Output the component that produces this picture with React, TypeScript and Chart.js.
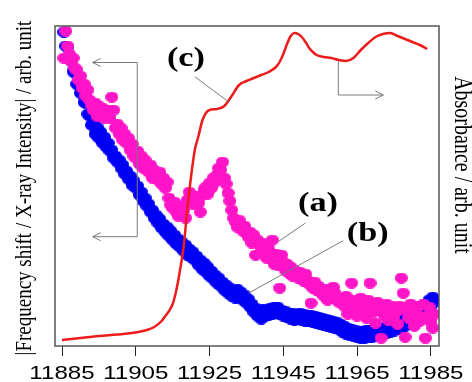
import { useEffect, useRef } from "react";
import { Chart, registerables } from "chart.js";

Chart.register(...registerables);

// ---- axis ticks ----
const xTicks = [11885, 11905, 11925, 11945, 11965, 11985];

// ---- photon energies (eV) of the scatter series ----
const energies = [
  11885.5, 11886, 11886.5, 11887, 11887.5, 11888, 11888.5, 11889, 11889.5, 11890,
  11890.5, 11891, 11891.5, 11892, 11892.5, 11893, 11893.5, 11894, 11894.5, 11895,
  11895.5, 11896, 11896.5, 11897, 11897.5, 11898, 11898.5, 11899, 11899.5, 11900,
  11900.5, 11901, 11901.5, 11902, 11902.5, 11903, 11903.5, 11904, 11904.5, 11905,
  11905.5, 11906, 11906.5, 11907, 11907.5, 11908, 11908.5, 11909, 11909.5, 11910,
  11910.5, 11911, 11911.5, 11912, 11912.5, 11913, 11913.5, 11914, 11914.5, 11915,
  11915.5, 11916, 11916.5, 11917, 11917.5, 11918, 11918.5, 11919, 11919.5, 11920,
  11920.5, 11921, 11921.5, 11922, 11922.5, 11923, 11923.5, 11924, 11924.5, 11925,
  11925.5, 11926, 11926.5, 11927, 11927.5, 11928, 11928.5, 11929, 11929.5, 11930,
  11930.5, 11931, 11931.5, 11932, 11932.5, 11933, 11933.5, 11934, 11934.5, 11935,
  11935.5, 11936, 11936.5, 11937, 11937.5, 11938, 11938.5, 11939, 11939.5, 11940,
  11940.5, 11941, 11941.5, 11942, 11942.5, 11943, 11943.5, 11944, 11944.5, 11945,
  11945.5, 11946, 11946.5, 11947, 11947.5, 11948, 11948.5, 11949, 11949.5, 11950,
  11950.5, 11951, 11951.5, 11952, 11952.5, 11953, 11953.5, 11954, 11954.5, 11955,
  11955.5, 11956, 11956.5, 11957, 11957.5, 11958, 11958.5, 11959, 11959.5, 11960,
  11960.5, 11961, 11961.5, 11962, 11962.5, 11963, 11963.5, 11964, 11964.5, 11965,
  11965.5, 11966, 11966.5, 11967, 11967.5, 11968, 11968.5, 11969, 11969.5, 11970,
  11970.5, 11971, 11971.5, 11972, 11972.5, 11973, 11973.5, 11974, 11974.5, 11975,
  11975.5, 11976, 11976.5, 11977, 11977.5, 11978, 11978.5, 11979, 11979.5, 11980,
  11980.5, 11981, 11981.5, 11982, 11982.5, 11983, 11983.5, 11984, 11984.5, 11985,
  11985.5, 11986,
];

// ---- (a) magenta: |frequency shift| (arb. unit) ----
const seriesA = [
  288, 315, 300, 292, 285, 288, 278, 276, 266, 270,
  258, 262, 250, 256, 246, 241, 236, 243, 230, 240,
  234, 238, 228, 233, 236, 228, 249, 236, 218, 222,
  212, 218, 206, 212, 203, 208, 196, 202, 190, 188,
  195, 182, 190, 178, 186, 180, 174, 181, 168, 176,
  172, 166, 174, 162, 168, 158, 164, 148, 141, 138,
  144, 134, 130, 132, 140, 136, 128, 146, 154, 150,
  142, 146, 150, 143, 134, 151, 156, 159, 152, 163,
  158, 168, 164, 171, 178, 176, 184, 168, 162, 153,
  145, 136, 128, 124, 119, 126, 118, 115, 120, 113,
  109, 114, 103, 111, 91, 106, 102, 98, 103, 96,
  88, 97, 93, 106, 82, 92, 81, 58, 91, 84,
  76, 82, 73, 79, 70, 76, 71, 68, 74, 70,
  65, 72, 66, 62, 43, 58, 64, 56, 60, 54,
  54, 50, 57, 46, 52, 48, 59, 53, 47, 44,
  45, 46, 40, 50, 32, 44, 63, 38, 46, 30,
  42, 48, 35, 44, 28, 46, 63, 40, 34, 23,
  44, 36, 8, 38, 30, 42, 26, 36, 40, 30,
  34, 22, 40, 68, 53, 9, 35, 28, 42, 39,
  20, 33, 40, 25, 29, 42, 8, 30, 39, 24,
  18, 32,
];

// ---- (b) blue: X-ray intensity (arb. unit) ----
const seriesB = [
  314, 300, 299, 288, 285, 275, 273, 262, 261, 253,
  253, 244, 243, 232, 230, 221, 223, 212, 219, 208,
  214, 203, 209, 199, 203, 195, 196, 188, 190, 184,
  186, 178, 181, 172, 175, 167, 170, 161, 165, 158,
  160, 151, 154, 145, 148, 140, 142, 134, 136, 128,
  131, 123, 127, 118, 122, 114, 119, 110, 115, 106,
  111, 102, 107, 99, 104, 95, 101, 91, 97, 89,
  94, 86, 90, 81, 86, 77, 83, 74, 79, 70,
  75, 67, 71, 63, 68, 60, 64, 56, 61, 53,
  58, 50, 55, 48, 57, 49, 54, 46, 51, 43,
  47, 39, 42, 34, 38, 30, 33, 27, 37, 30,
  35, 31, 38, 32, 39, 33, 39, 32, 36, 30,
  35, 29, 33, 27, 33, 26, 32, 27, 33, 26,
  32, 25, 31, 25, 31, 24, 30, 23, 29, 22,
  28, 21, 27, 20, 26, 19, 25, 18, 24, 17,
  22, 14, 20, 12, 18, 11, 17, 10, 16, 9,
  15, 8, 15, 8, 16, 9, 16, 9, 17, 10,
  17, 11, 18, 12, 19, 13, 20, 14, 22, 15,
  23, 17, 25, 18, 27, 20, 29, 22, 31, 24,
  33, 26, 35, 28, 38, 31, 42, 35, 46, 40,
  49, 44,
];

// ---- (c) red: absorbance (arb. unit) ----
const absE = [
  11885, 11890, 11895, 11900, 11904, 11908, 11910, 11912, 11913, 11914,
  11915, 11916, 11917, 11918, 11919, 11920, 11921, 11922, 11923, 11924,
  11925, 11927, 11929, 11931, 11933, 11935, 11937, 11939, 11941, 11943,
  11944, 11945, 11946, 11947, 11948, 11949, 11950, 11951, 11952, 11953,
  11954, 11956, 11958, 11960, 11962, 11964, 11966, 11968, 11970, 11972,
  11974, 11976, 11978, 11980, 11982, 11984,
];
const absC = [
  6, 8, 10, 11.5, 13, 16, 19, 25, 30, 35,
  42, 56, 76, 100, 138, 170, 196, 210, 225, 233,
  236, 237, 240, 250, 261, 265, 268, 271, 274, 279,
  284, 292, 302, 310, 313, 312, 309, 304, 298, 294,
  291, 289, 288, 286, 285, 288, 296, 303, 309, 312,
  313, 310, 307, 304, 301, 297,
];

const SERIF = '"Liberation Serif", "Times New Roman", serif';
const SANS = '"Liberation Sans", Arial, sans-serif';
const STRETCH = 1.27;

function makeDot(color: string) {
  const c = document.createElement("canvas");
  c.width = 13;
  c.height = 11;
  const g = c.getContext("2d")!;
  g.fillStyle = color;
  g.beginPath();
  g.ellipse(6.5, 5.5, 6.5, 5.5, 0, 0, Math.PI * 2);
  g.fill();
  return c;
}

const decorPlugin = {
  id: "decor",
  afterDatasetsDraw(chart: any) {
    const { ctx, chartArea: a, scales } = chart;
    const xs = scales.x;
    const ys = scales.y;
    const X = (v: number) => xs.getPixelForValue(v);
    const Y = (v: number) => ys.getPixelForValue(v);
    ctx.save();

    // frame
    ctx.strokeStyle = "#555";
    ctx.lineWidth = 1.5;
    ctx.strokeRect(a.left, a.top, a.right - a.left, a.bottom - a.top);

    // guide lines
    ctx.strokeStyle = "#7a7a7a";
    ctx.lineWidth = 1;
    const line = (pts: number[][]) => {
      ctx.beginPath();
      pts.forEach((p, i) => (i ? ctx.lineTo(X(p[0]), Y(p[1])) : ctx.moveTo(X(p[0]), Y(p[1]))));
      ctx.stroke();
    };
    const head = (p: number[], dir: number) => {
      const px = X(p[0]);
      const py = Y(p[1]);
      ctx.beginPath();
      ctx.moveTo(px + dir * 8, py - 4);
      ctx.lineTo(px, py);
      ctx.lineTo(px + dir * 8, py + 4);
      ctx.stroke();
    };
    // left bracket (scatter -> left axis)
    line([[11893.3, 283.5], [11905.4, 283.5], [11905.4, 109.3], [11893.3, 109.3]]);
    head([11893.3, 283.5], 1);
    head([11893.3, 109.3], 1);
    // right bracket (absorbance -> right axis)
    line([[11959.9, 285], [11959.9, 251], [11972.1, 251]]);
    head([11972.1, 251], -1);
    // leader lines
    line([[11921.0, 269.3], [11930.1, 244.3]]);
    line([[11951.0, 123], [11943.6, 104.3]]);
    line([[11961.2, 105.3], [11935.5, 52.7]]);

    // labels
    ctx.fillStyle = "#000";
    const label = (t: string, e: number, v: number) => {
      ctx.save();
      ctx.translate(X(e), Y(v));
      ctx.scale(STRETCH, 1);
      ctx.font = `bold 27px ${SERIF}`;
      ctx.textAlign = "center";
      ctx.textBaseline = "middle";
      ctx.fillText(t, 0, 0);
      ctx.restore();
    };
    label("(c)", 11918.6, 287);
    label("(a)", 11954.4, 142);
    label("(b)", 11967.9, 112);

    // x tick labels
    xTicks.forEach((t) => {
      ctx.save();
      ctx.translate(X(t), 379);
      ctx.scale(STRETCH, 1);
      ctx.font = `19px ${SANS}`;
      ctx.textAlign = "center";
      ctx.textBaseline = "alphabetic";
      ctx.fillText(String(t), 0, 0);
      ctx.restore();
    });

    // axis titles
    ctx.save();
    ctx.translate(25, (a.top + a.bottom) / 2 + 2);
    ctx.scale(STRETCH, 1);
    ctx.rotate(-Math.PI / 2);
    ctx.font = `19px ${SERIF}`;
    ctx.textAlign = "center";
    ctx.textBaseline = "middle";
    ctx.fillText("|Frequency shift / X-ray Intensity| / arb. unit", 0, 0);
    ctx.restore();

    ctx.save();
    ctx.translate(462, 165);
    ctx.scale(STRETCH, 1);
    ctx.rotate(Math.PI / 2);
    ctx.font = `20px ${SERIF}`;
    ctx.textAlign = "center";
    ctx.textBaseline = "middle";
    ctx.fillText("Absorbance / arb. unit", 0, 0);
    ctx.restore();

    ctx.restore();
  },
};

export default function App() {
  const ref = useRef<HTMLCanvasElement | null>(null);
  useEffect(() => {
    document.body.style.margin = "0";
    const canvas = ref.current;
    if (!canvas) return;
    const magentaDot = makeDot("#ff14c8");
    const blueDot = makeDot("#0000f5");
    const chart = new Chart(canvas, {
      type: "scatter",
      data: {
        datasets: [
          {
            label: "(c) Absorbance",
            data: absE.map((e, i) => ({ x: e, y: absC[i] })),
            showLine: true,
            borderColor: "#ec1c1c",
            backgroundColor: "#ec1c1c",
            borderWidth: 2.5,
            pointRadius: 0,
            cubicInterpolationMode: "monotone",
            yAxisID: "y2",
          } as any,
          {
            label: "(a)",
            data: energies.map((e, i) => ({ x: e, y: seriesA[i] })),
            backgroundColor: "#ff14c8",
            borderColor: "#ff14c8",
            pointStyle: magentaDot,
            pointRadius: 6,
            yAxisID: "y",
          },
          {
            label: "(b)",
            data: energies.map((e, i) => ({ x: e, y: seriesB[i] })),
            backgroundColor: "#0000f5",
            borderColor: "#0000f5",
            pointStyle: blueDot,
            pointRadius: 6,
            yAxisID: "y",
          },
        ],
      },
      options: {
        responsive: false,
        animation: false,
        devicePixelRatio: 1,
        layout: { padding: { left: 55, right: 33, top: 26, bottom: 0 } },
        plugins: { legend: { display: false }, tooltip: { enabled: false } },
        scales: {
          x: {
            type: "linear",
            position: "bottom",
            min: 11883.1,
            max: 11987.2,
            afterBuildTicks: (axis: any) => {
              axis.ticks = xTicks.map((v) => ({ value: v }));
            },
            afterFit: (axis: any) => {
              axis.height = 36;
            },
            grid: {
              drawOnChartArea: false,
              drawTicks: true,
              tickLength: 10,
              color: "#222",
              lineWidth: 1,
            },
            border: { display: false },
            ticks: { display: false },
          },
          y: { display: false, min: 0, max: 320 },
          y2: { display: false, min: 0, max: 320, position: "right" },
        },
      },
      plugins: [decorPlugin],
    });
    return () => chart.destroy();
  }, []);
  return <canvas ref={ref} width={472} height={382} style={{ display: "block" }} />;
}
